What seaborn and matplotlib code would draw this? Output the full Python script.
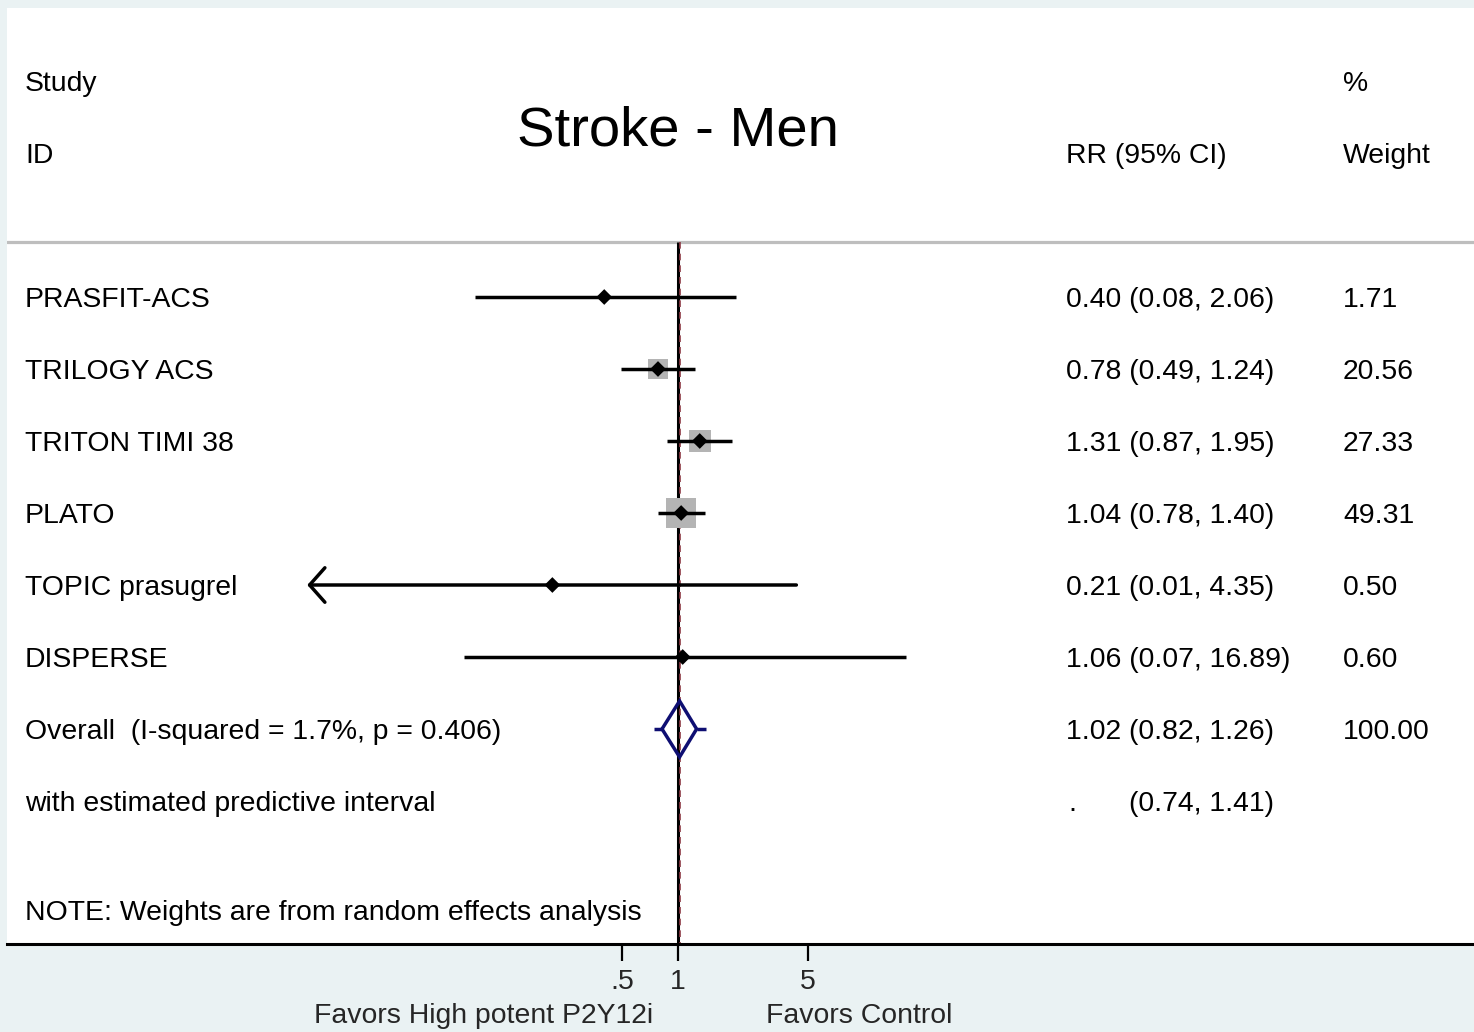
import numpy as np
import pandas as pd
import matplotlib
matplotlib.use("Agg")
import matplotlib.pyplot as plt
import seaborn as sns
from matplotlib.transforms import blended_transform_factory

# ---------------- data ----------------
studies = ["PRASFIT-ACS", "TRILOGY ACS", "TRITON TIMI 38", "PLATO",
           "TOPIC prasugrel", "DISPERSE"]
rr = [0.40, 0.78, 1.31, 1.04, 0.21, 1.06]
lower = [0.08, 0.49, 0.87, 0.78, 0.01, 0.07]
upper = [2.06, 1.24, 1.95, 1.40, 4.35, 16.89]
weights = [1.71, 20.56, 27.33, 49.31, 0.50, 0.60]

overall_rr = 1.02
overall_lo = 0.82
overall_hi = 1.26
pred_lo = 0.74
pred_hi = 1.41
i_squared = 1.7
p_value = 0.406
overall_weight = 100.00

tick_values = [0.5, 1, 5]
tick_labels = [".5", "1", "5"]

title = "Stroke - Men"
left_label = "Favors High potent P2Y12i"
right_label = "Favors Control"

# ---------------- style ----------------
sns.set_theme(style="white")
plt.rcParams["font.family"] = ["Liberation Sans", "DejaVu Sans"]

BG = "#EAF2F3"
NAVY = "#0E0E72"
FS = 20.4
LW = 2.5

W, H = 1474, 1032
fig = plt.figure(figsize=(W / 100, H / 100), dpi=100, facecolor=BG)
ax = fig.add_axes([7 / W, (H - 944) / H, (W - 7) / W, (944 - 8) / H])
ax.set_facecolor("white")

# x: log scale, 1 at pixel 678, ~80.5 px per ln-unit
ppl = 80.5
xmin = np.exp(-(678 - 7) / ppl)
xmax = np.exp((W - 678) / ppl)
ax.set_xscale("log")
ax.set_xlim(xmin, xmax)

# y: row index, rows spaced 72 px, first row at pixel 297
row_px = 72.0
ytop = (8 - 297) / row_px
ybot = (944 - 297) / row_px
ax.set_ylim(ybot, ytop)
header_line_y = (242 - 297) / row_px

n = len(studies)
rows = np.arange(n)
overall_row = n
pred_row = n + 1
note_row = (910 - 297) / row_px

df = pd.DataFrame({"study": studies, "rr": rr, "lo": lower, "hi": upper,
                   "w": weights, "row": rows})

# reference lines
ax.axhline(header_line_y, color="#BEBEBE", lw=2.3, zorder=1)
ax.vlines(1, header_line_y, ybot, color="black", lw=2.2, zorder=2)
ax.vlines(overall_rr, header_line_y, ybot, color="#8E3A45", lw=1.2,
          linestyles=(0, (4, 3)), zorder=2.5)

# weight squares (area proportional to weight)
k_px = 4.2
def area(w):
    return (k_px * np.sqrt(w) * 0.72) ** 2
sns.scatterplot(data=df, x="rr", y="row", size="w",
                sizes=(area(min(weights)), area(max(weights))),
                size_norm=(min(weights), max(weights)),
                marker="s", color="#B4B4B4", edgecolor="none",
                legend=False, ax=ax, zorder=3)

# confidence intervals
for _, r in df.iterrows():
    if r["lo"] <= 0.01:
        ax.annotate("", xy=(r["lo"], r["row"]), xytext=(r["hi"], r["row"]),
                    arrowprops=dict(arrowstyle="->,head_length=0.55,head_width=0.62",
                                    lw=LW, color="black", shrinkA=0, shrinkB=0,
                                    mutation_scale=20), zorder=4)
    else:
        ax.hlines(r["row"], r["lo"], r["hi"], color="black", lw=LW, zorder=4)

# point estimates
sns.scatterplot(data=df, x="rr", y="row", marker="D", s=64, color="black",
                edgecolor="none", legend=False, ax=ax, zorder=5)

# overall diamond
h = 28 / row_px
dx = [overall_lo, overall_rr, overall_hi, overall_rr, overall_lo]
dy = [overall_row, overall_row - h, overall_row, overall_row + h, overall_row]
ax.plot(dx, dy, color=NAVY, lw=LW, zorder=6, solid_joinstyle="miter")
ax.hlines(overall_row, pred_lo, overall_lo, color=NAVY, lw=LW, zorder=6)
ax.hlines(overall_row, overall_hi, pred_hi, color=NAVY, lw=LW, zorder=6)

# axes style
for s in ["top", "left", "right"]:
    ax.spines[s].set_visible(False)
ax.spines["bottom"].set_color("black")
ax.spines["bottom"].set_linewidth(2.2)
ax.set_yticks([])
ax.set_xticks(tick_values)
ax.set_xticklabels(tick_labels, fontsize=FS)
ax.xaxis.set_minor_locator(matplotlib.ticker.NullLocator())
ax.tick_params(axis="x", which="major", direction="out", length=12.5, width=1.6,
               color="black", pad=5.5, bottom=True)
ax.set_xlabel("")
ax.set_ylabel("")

# text columns
tr = blended_transform_factory(ax.transAxes, ax.transData)
x_id = (25 - 7) / (W - 7)
x_rr = (1066 - 7) / (W - 7)
x_w = (1343 - 7) / (W - 7)
x_dot = (1068 - 7) / (W - 7)
x_pi = (1129 - 7) / (W - 7)

yoff = 3 / row_px
y_hdr1 = (81 - 297) / row_px + yoff
y_hdr2 = (153 - 297) / row_px + yoff
y_title = (128 - 297) / row_px + 4 / row_px

txt = dict(fontsize=FS, va="center", color="black", transform=tr)
ax.text(x_id, y_hdr1, "Study", **txt)
ax.text(x_id, y_hdr2, "ID", **txt)
ax.text(x_rr, y_hdr2, "RR (95% CI)", **txt)
ax.text(x_w, y_hdr1, "%", **txt)
ax.text(x_w, y_hdr2, "Weight", **txt)
ax.text(1.0, y_title, title, fontsize=40.5, ha="center", va="center",
        color="black", transform=ax.transData)

for _, r in df.iterrows():
    yy = r["row"] + yoff
    ax.text(x_id, yy, r["study"], **txt)
    ax.text(x_rr, yy, f"{r['rr']:.2f} ({r['lo']:.2f}, {r['hi']:.2f})", **txt)
    ax.text(x_w, yy, f"{r['w']:.2f}", **txt)

ax.text(x_id, overall_row + yoff,
        f"Overall  (I-squared = {i_squared:.1f}%, p = {p_value:.3f})", **txt)
ax.text(x_rr, overall_row + yoff,
        f"{overall_rr:.2f} ({overall_lo:.2f}, {overall_hi:.2f})", **txt)
ax.text(x_w, overall_row + yoff, f"{overall_weight:.2f}", **txt)
ax.text(x_id, pred_row + yoff, "with estimated predictive interval", **txt)
ax.text(x_dot, pred_row + yoff, ".", **txt)
ax.text(x_pi, pred_row + yoff, f"({pred_lo:.2f}, {pred_hi:.2f})", **txt)
ax.text(x_id, note_row + yoff, "NOTE: Weights are from random effects analysis", **txt)

# bottom direction labels
fig.text(653 / W, 1 - 1016 / H, left_label, fontsize=FS, ha="right", va="center")
fig.text(766 / W, 1 - 1016 / H, right_label, fontsize=FS, ha="left", va="center")

fig.savefig("out.png", dpi=100, facecolor=BG)
